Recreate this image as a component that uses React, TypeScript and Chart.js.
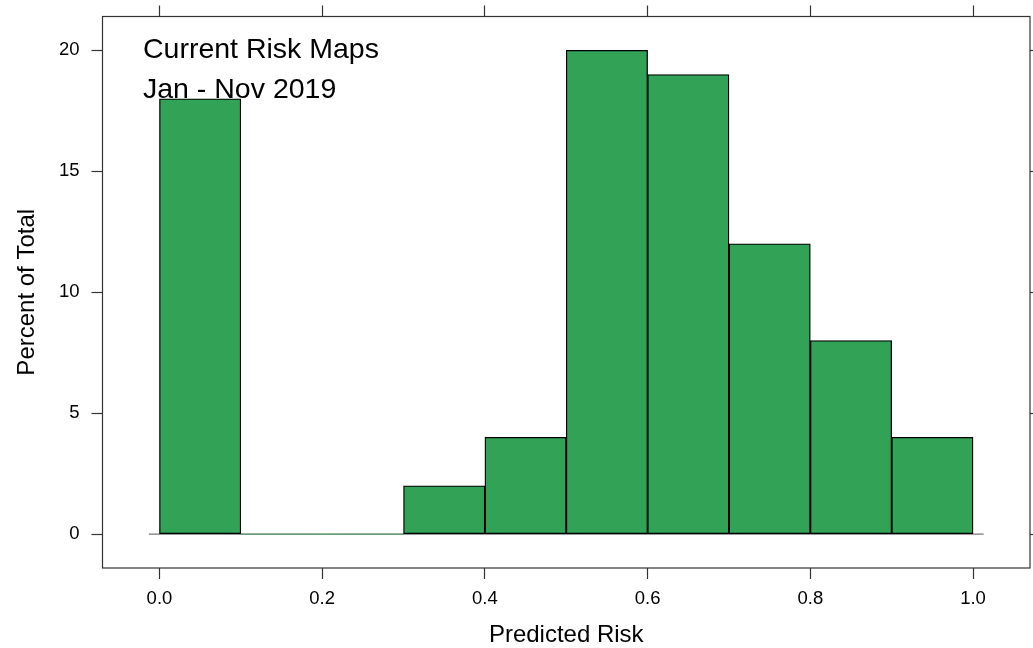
import React, { useEffect, useRef } from 'react';
import { Chart, registerables } from 'chart.js';

Chart.register(...registerables);

// Histogram bins (left edges) and their percentages
const binStarts = [0.0, 0.1, 0.2, 0.3, 0.4, 0.5, 0.6, 0.7, 0.8, 0.9];
const binWidth = 0.1;
const percents = [18, 0, 0, 2, 4, 20, 19, 12, 8, 4];

// Axis ticks and ranges
const xTicks = [0.0, 0.2, 0.4, 0.6, 0.8, 1.0];
const yTicks = [0, 5, 10, 15, 20];
const xRange = [-0.07, 1.07];
const yRange = [-1.4, 21.4];
const refLineX = [-0.013, 1.013];

// Text
const xTitle = 'Predicted Risk';
const yTitle = 'Percent of Total';
const annotation = ['Current Risk Maps', 'Jan - Nov 2019'];

const FONT = '"Liberation Sans", Arial, Helvetica, sans-serif';
const LINE = '#333333';
const BAR = '#32a356';

export default function App() {
  const ref = useRef<HTMLCanvasElement | null>(null);

  useEffect(() => {
    if (!ref.current) return;

    const refLinePlugin = {
      id: 'refLine',
      beforeDatasetsDraw(chart: any) {
        const { ctx, scales } = chart;
        const xs = scales.x;
        const ys = scales.y;
        const y = ys.getPixelForValue(0);
        ctx.save();
        ctx.strokeStyle = '#777777';
        ctx.lineWidth = 1.3;
        ctx.beginPath();
        ctx.moveTo(xs.getPixelForValue(refLineX[0]), y);
        ctx.lineTo(xs.getPixelForValue(refLineX[1]), y);
        ctx.stroke();
        ctx.restore();
      },
    };

    const framePlugin = {
      id: 'panelFrame',
      afterDraw(chart: any) {
        const { ctx, chartArea } = chart;
        ctx.save();
        ctx.strokeStyle = LINE;
        ctx.lineWidth = 1.2;
        ctx.strokeRect(
          chartArea.left,
          chartArea.top,
          chartArea.right - chartArea.left,
          chartArea.bottom - chartArea.top
        );
        ctx.restore();
      },
    };

    const annotationPlugin = {
      id: 'annotationText',
      afterDraw(chart: any) {
        const { ctx, chartArea } = chart;
        ctx.save();
        ctx.font = `28.5px ${FONT}`;
        ctx.fillStyle = '#000';
        ctx.textAlign = 'left';
        ctx.textBaseline = 'alphabetic';
        ctx.fillText(annotation[0], chartArea.left + 40.5, chartArea.top + 41);
        ctx.fillText(annotation[1], chartArea.left + 40.5, chartArea.top + 81.5);
        ctx.restore();
      },
    };

    const gridOpts = {
      display: true,
      drawOnChartArea: false,
      drawTicks: true,
      tickLength: 11,
      tickColor: LINE,
      tickWidth: 1.2,
      offset: false,
    };
    const borderOpts = { display: false };

    const fitH = (h: number) => (s: any) => {
      s.height = h;
      s.paddingLeft = 0;
      s.paddingRight = 0;
      s.paddingTop = 0;
      s.paddingBottom = 0;
    };
    const fitW = (w: number) => (s: any) => {
      s.width = w;
      s.paddingTop = 0;
      s.paddingBottom = 0;
      s.paddingLeft = 0;
      s.paddingRight = 0;
    };

    const chart = new Chart(ref.current, {
      type: 'bar',
      data: {
        datasets: [
          {
            data: binStarts.map((b, i) => ({ x: b + binWidth / 2, y: percents[i] })),
            backgroundColor: BAR,
            borderColor: '#000000',
            borderWidth: (c: any) => (percents[c.dataIndex] > 0 ? 1.3 : 0),
            borderSkipped: false,
            barPercentage: 1,
            categoryPercentage: 1,
            xAxisID: 'x',
            yAxisID: 'y',
          },
        ],
      },
      options: {
        responsive: false,
        animation: false,
        layout: { padding: 0 },
        plugins: { legend: { display: false }, tooltip: { enabled: false }, title: { display: false } },
        scales: {
          x: {
            type: 'linear',
            position: 'bottom',
            min: xRange[0],
            max: xRange[1],
            offset: false,
            grid: gridOpts,
            border: borderOpts,
            afterBuildTicks: (s: any) => {
              s.ticks = xTicks.map((v) => ({ value: v }));
            },
            afterFit: fitH(80),
            ticks: {
              padding: 9,
              color: '#000',
              font: { family: FONT, size: 18.5 },
              maxRotation: 0,
              autoSkip: false,
              callback: (v: any) => Number(v).toFixed(1),
            },
            title: {
              display: true,
              text: xTitle,
              color: '#000',
              font: { family: FONT, size: 24 },
              padding: { top: 0, bottom: -2 },
            },
          },
          x2: {
            type: 'linear',
            position: 'top',
            display: true,
            min: xRange[0],
            max: xRange[1],
            offset: false,
            grid: gridOpts,
            border: borderOpts,
            afterBuildTicks: (s: any) => {
              s.ticks = xTicks.map((v) => ({ value: v }));
            },
            afterFit: fitH(16.5),
            ticks: { display: false },
          },
          y: {
            type: 'linear',
            position: 'left',
            min: yRange[0],
            max: yRange[1],
            grid: gridOpts,
            border: borderOpts,
            afterBuildTicks: (s: any) => {
              s.ticks = yTicks.map((v) => ({ value: v }));
            },
            afterFit: fitW(102.5),
            ticks: {
              padding: 12,
              color: '#000',
              font: { family: FONT, size: 18.5 },
              callback: (v: any) => String(v),
            },
            title: {
              display: true,
              text: yTitle,
              color: '#000',
              font: { family: FONT, size: 24 },
              padding: { top: 13, bottom: 0 },
            },
          },
          y2: {
            type: 'linear',
            position: 'right',
            display: true,
            min: yRange[0],
            max: yRange[1],
            grid: gridOpts,
            border: borderOpts,
            afterBuildTicks: (s: any) => {
              s.ticks = yTicks.map((v) => ({ value: v }));
            },
            afterFit: fitW(3),
            ticks: { display: false },
          },
        },
      },
      plugins: [refLinePlugin, framePlugin, annotationPlugin],
    } as any);

    return () => chart.destroy();
  }, []);

  return (
    <div style={{ position: 'absolute', left: 0, top: 0, width: 1033, height: 648, background: '#fff' }}>
      <canvas ref={ref} width={1033} height={648} />
    </div>
  );
}
